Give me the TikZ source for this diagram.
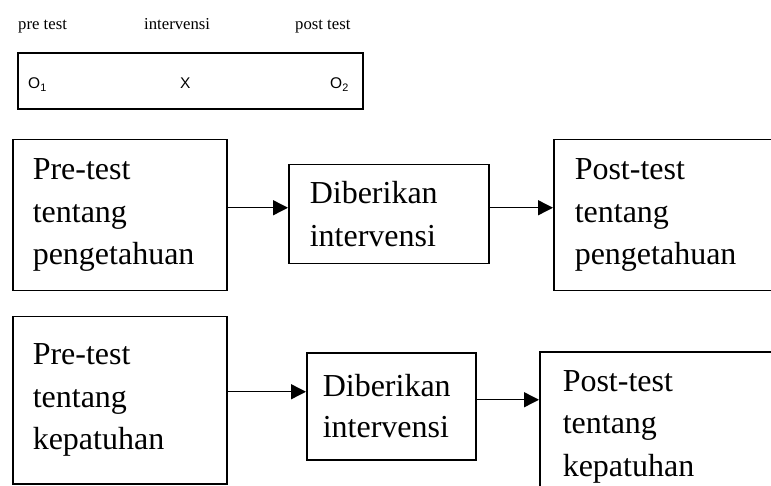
\documentclass[tikz,border=0pt]{standalone}
\usepackage{fontspec}
\setmainfont{Liberation Serif}
\newfontfamily\arialfont{Liberation Sans}
\usetikzlibrary{arrows.meta,positioning}

\begin{document}
\begin{tikzpicture}[x=1pt, y=-1pt,
        >={Triangle[length=15pt,width=15pt]},
        phase/.style={anchor=base west, inner sep=0pt, font=\fontsize{16.7}{20}\selectfont},
        sym/.style={anchor=base west, inner sep=0pt, font=\arialfont\fontsize{15.5}{18}\selectfont},
        design/.style={rectangle, draw, line width=1.6pt, anchor=north west, inner sep=0pt},
        stage/.style={rectangle, draw, line width=1.5pt, anchor=north west, align=left, inner xsep=20pt, inner ysep=0pt, font=\fontsize{32}{42.5}\selectfont},
        flow/.style={->, line width=1.4pt},
        ]
        \useasboundingbox (0,0) rectangle (771,486);

        % Design scheme
        \node[phase] (pre) at (18,30) {pre test};
        \node[phase] (int) at (144,30) {intervensi};
        \node[phase] (post) at (295,30) {post test};
        \node[design, minimum width=345pt, minimum height=56pt] (scheme) at (17,52) {};
        \node[sym] (o1) at (28,89) {O\textsubscript{1}};
        \node[sym] (x) at (180,89) {X};
        \node[sym] (o2) at (330,89) {O\textsubscript{2}};

        % Knowledge
        \node[stage, text width=174pt, minimum height=151pt] (pre1) at (12,139) {Pre-test\\tentang\\pengetahuan};
        \node[stage, inner xsep=21pt, text width=158pt, minimum height=99pt] (beri1) at (288,164) {Diberikan\\intervensi};
        \node[stage, inner xsep=21pt, text width=200pt, minimum height=151pt] (post1) at (553,139) {Post-test\\tentang\\pengetahuan};

        % Compliance
        \node[stage, text width=174pt, minimum height=167pt] (pre2) at (12,316) {Pre-test\\tentang\\kepatuhan};
        \node[stage, inner xsep=16pt, text width=137pt, minimum height=107pt, font=\fontsize{32}{41}\selectfont] (beri2) at (306,352) {Diberikan\\intervensi};
        \node[stage, inner xsep=23pt, text width=200pt, minimum height=150pt] (post2) at (539,351) {Post-test\\tentang\\kepatuhan};

        % Arrows
        \draw[flow] ([yshift=7.5pt]pre1.east) -- ([yshift=7.5pt]pre1.east -| beri1.west);
        \draw[flow] ([yshift=6.5pt]beri1.east) -- ([yshift=6.5pt]beri1.east -| post1.west);
        \draw[flow] ([yshift=8.5pt]pre2.east) -- ([yshift=8.5pt]pre2.east -| beri2.west);
        \draw[flow] ([yshift=6.5pt]beri2.east) -- ([yshift=6.5pt]beri2.east -| post2.west);

    \end{tikzpicture}
\end{document}
